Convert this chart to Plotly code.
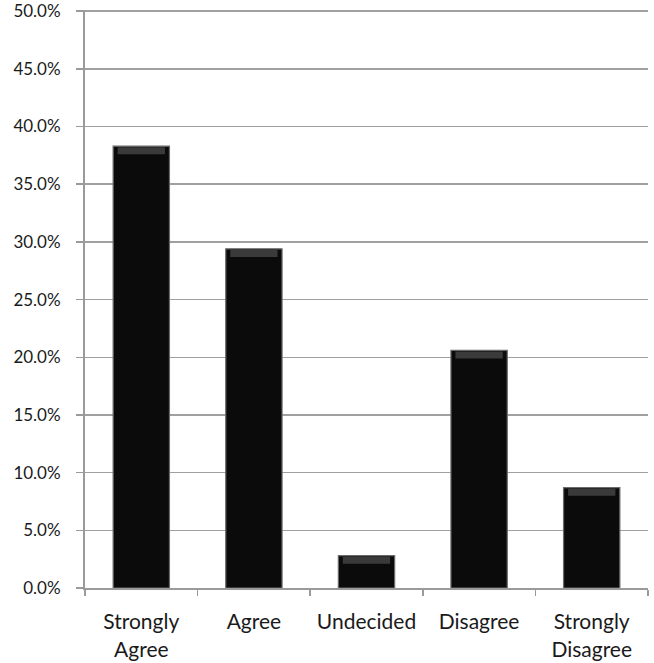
import plotly.graph_objects as go

categories = ["Strongly<br>Agree", "Agree", "Undecided", "Disagree", "Strongly<br>Disagree"]
values = [0.383, 0.294, 0.028, 0.206, 0.087]
y_ticks = [0.0, 0.05, 0.10, 0.15, 0.20, 0.25, 0.30, 0.35, 0.40, 0.45, 0.50]

fig = go.Figure()
fig.add_trace(go.Bar(
    x=categories, y=values,
    marker=dict(color="#0b0b0b", line=dict(color="#6a6a6a", width=1.2)),
    showlegend=False, hoverinfo="skip",
))
# top bevel highlight
fig.add_trace(go.Bar(
    x=categories, y=[0.006] * len(values), base=[v - 0.007 for v in values],
    marker=dict(color="rgba(130,130,130,0.4)", line=dict(width=0)),
    width=0.42, showlegend=False, hoverinfo="skip",
))

font = "Lato, 'Open Sans', sans-serif"
fig.update_layout(
    width=654, height=663,
    margin=dict(l=85, r=6, t=10, b=75, autoexpand=False),
    paper_bgcolor="white", plot_bgcolor="white",
    barmode="overlay", bargap=0.5,
    font=dict(family=font, size=18, color="#1a1a1a"),
)
fig.update_xaxes(
    showline=True, linecolor="#9a9a9a", linewidth=2,
    ticks="outside", tickson="boundaries", ticklen=6, tickcolor="#9a9a9a", tickwidth=1.5,
    showgrid=False, automargin=False, ticklabelstandoff=14,
    tickfont=dict(size=21, color="#1a1a1a"),
)
fig.update_yaxes(
    range=[0, 0.501], tickvals=y_ticks, tickformat=".1%",
    showline=True, linecolor="#9a9a9a", linewidth=2,
    ticks="outside", ticklen=7, tickcolor="#9a9a9a", tickwidth=1.5,
    showgrid=True, gridcolor="#a0a0a0", gridwidth=1.5,
    zeroline=False, ticklabelstandoff=12, automargin=False,
    ticklabeloverflow="allow",
    tickfont=dict(size=17, color="#1a1a1a"),
)
fig.write_html(
    "out.html",
    config={"displayModeBar": False, "staticPlot": True},
    post_script="document.body.style.margin='0';document.body.style.overflow='hidden';",
)
